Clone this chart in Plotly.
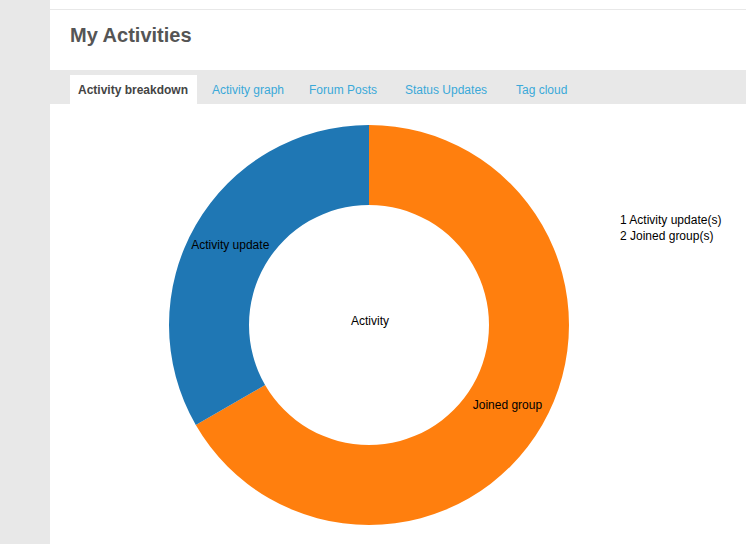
import plotly.graph_objects as go

W, H = 746, 544

# Data
categories = ["Joined group", "Activity update"]
counts = [2, 1]
colors = ["#ff7f0e", "#1f77b4"]
legend_labels = ["Activity update(s)", "Joined group(s)"]
legend_counts = [1, 2]
tab_labels = ["Activity breakdown", "Activity graph", "Forum Posts", "Status Updates", "Tag cloud"]
tab_centers_px = [133, 248, 343, 446, 541]
page_title = "My Activities"
center_label = "Activity"

FONT = "Liberation Sans, Arial, sans-serif"

def px(x):
    return x / W

def py(y):
    return 1 - y / H

fig = go.Figure()

cx, cy, r = 369, 325, 200
fig.add_trace(go.Pie(
    labels=categories,
    values=counts,
    marker=dict(colors=colors, line=dict(width=0)),
    hole=0.6,
    sort=False,
    direction="clockwise",
    rotation=0,
    textinfo="label",
    textposition="inside",
    insidetextorientation="horizontal",
    textfont=dict(family=FONT, size=12, color="#000000"),
    hoverinfo="label+value",
    showlegend=False,
    domain=dict(x=[px(cx - r), px(cx + r)], y=[py(cy + r), py(cy - r)]),
))

shapes = [
    # left grey strip
    dict(type="rect", xref="paper", yref="paper", x0=0, x1=px(50), y0=0, y1=1,
         fillcolor="#e8e8e8", line=dict(width=0), layer="below"),
    # thin top separator
    dict(type="rect", xref="paper", yref="paper", x0=px(50), x1=1, y0=py(10), y1=py(9),
         fillcolor="#e8e8e8", line=dict(width=0), layer="below"),
    # tab bar
    dict(type="rect", xref="paper", yref="paper", x0=px(50), x1=1, y0=py(104), y1=py(70),
         fillcolor="#e8e8e8", line=dict(width=0), layer="below"),
    # active tab
    dict(type="rect", xref="paper", yref="paper", x0=px(70), x1=px(197), y0=py(105), y1=py(75),
         fillcolor="#ffffff", line=dict(width=0), layer="below"),
]

annotations = [
    dict(text="<b>" + page_title + "</b>", x=px(68), y=py(35), xref="paper", yref="paper",
         xanchor="left", yanchor="middle", showarrow=False,
         font=dict(family=FONT, size=20, color="#555555")),
    dict(text=center_label, x=px(cx + 1), y=py(321), xref="paper", yref="paper",
         xanchor="center", yanchor="middle", showarrow=False,
         font=dict(family=FONT, size=12, color="#000000")),
]

for i, (lab, c) in enumerate(zip(tab_labels, tab_centers_px)):
    if i == 0:
        txt = "<b>" + lab + "</b>"
        col = "#444444"
    else:
        txt = lab
        col = "#3aa9d9"
    annotations.append(dict(text=txt, x=px(c), y=py(90), xref="paper", yref="paper",
                            xanchor="center", yanchor="middle", showarrow=False,
                            font=dict(family=FONT, size=12, color=col)))

for i, (n, lab) in enumerate(zip(legend_counts, legend_labels)):
    annotations.append(dict(text=f"{n} {lab}", x=px(618), y=py(220 + 16 * i), xref="paper", yref="paper",
                            xanchor="left", yanchor="middle", showarrow=False,
                            font=dict(family=FONT, size=12, color="#000000")))

fig.update_layout(
    width=W, height=H,
    margin=dict(l=0, r=0, t=0, b=0),
    paper_bgcolor="#ffffff",
    plot_bgcolor="#ffffff",
    shapes=shapes,
    annotations=annotations,
    uniformtext=dict(minsize=12, mode="show"),
)

fig.write_html("out.html")
